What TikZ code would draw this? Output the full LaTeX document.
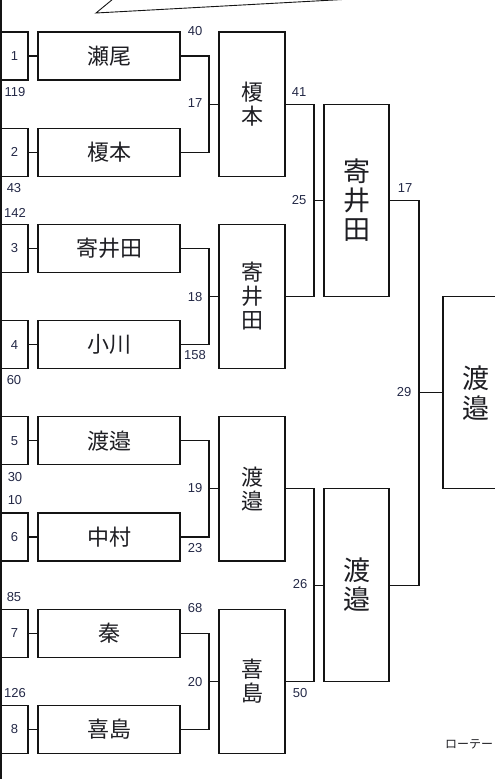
\documentclass[tikz,border=0pt]{standalone}
\usepackage{fontspec}
\setmainfont{Liberation Sans}
\newfontfamily\cjk{Noto Sans CJK JP}
\usetikzlibrary{positioning}
\definecolor{lineblack}{RGB}{20, 20, 20}
\definecolor{namegray}{RGB}{30, 30, 35}
\definecolor{scorenavy}{RGB}{35, 40, 70}
\tikzset{
  bline/.style={line width=1.1pt, lineblack},
  seedbox/.style={draw=lineblack, line width=1.1pt, minimum width=27pt, minimum height=48pt, inner sep=0pt, outer sep=0pt, text=scorenavy, font=\fontsize{13}{13}\selectfont},
  namebox/.style={draw=lineblack, line width=1.1pt, minimum width=142pt, minimum height=48pt, inner sep=0pt, outer sep=0pt, text=namegray, font=\cjk\fontsize{22}{22}\selectfont},
  rtwobox/.style={draw=lineblack, line width=1.1pt, minimum width=66pt, minimum height=144.2pt, inner sep=0pt, outer sep=0pt, align=center, text=namegray, font=\cjk\fontsize{22}{24}\selectfont},
  rthreebox/.style={draw=lineblack, line width=1.1pt, minimum width=65pt, minimum height=192.4pt, inner sep=0pt, outer sep=0pt, align=center, text=namegray, font=\cjk\fontsize{27}{29}\selectfont},
  score/.style={inner sep=0pt, text=scorenavy, font=\fontsize{13}{13}\selectfont}
}
\begin{document}
\begin{tikzpicture}[x=1pt, y=-1pt]
    \useasboundingbox (0,0) rectangle (495,779);
    \clip (0,0) rectangle (495,779);
    % Đường viền trái và chú thích phía trên
    \draw[bline] (1,0) -- (1,779);
    \draw[line width=0.9pt, lineblack] (113,-1) -- (96,13) -- (352,-1);
    % Hạt giống
    \node (s1) [seedbox] at (14.5,56) {1};
    \node (s2) [seedbox] at (14.5,152.2) {2};
    \node (s3) [seedbox] at (14.5,248.4) {3};
    \node (s4) [seedbox] at (14.5,344.6) {4};
    \node (s5) [seedbox] at (14.5,440.8) {5};
    \node (s6) [seedbox] at (14.5,537) {6};
    \node (s7) [seedbox] at (14.5,633.2) {7};
    \node (s8) [seedbox] at (14.5,729.4) {8};
    % Tên vòng 1
    \node (n1) [namebox, right=10pt of s1] {瀬尾};
    \node (n2) [namebox, right=10pt of s2] {榎本};
    \node (n3) [namebox, right=10pt of s3] {寄井田};
    \node (n4) [namebox, right=10pt of s4] {小川};
    \node (n5) [namebox, right=10pt of s5] {渡邉};
    \node (n6) [namebox, right=10pt of s6] {中村};
    \node (n7) [namebox, right=10pt of s7] {秦};
    \node (n8) [namebox, right=10pt of s8] {喜島};
    \draw[bline] (s1) -- (n1);
    \draw[bline] (s2) -- (n2);
    \draw[bline] (s3) -- (n3);
    \draw[bline] (s4) -- (n4);
    \draw[bline] (s5) -- (n5);
    \draw[bline] (s6) -- (n6);
    \draw[bline] (s7) -- (n7);
    \draw[bline] (s8) -- (n8);
    % Điểm nối vòng 1
    \coordinate (j1) at (209,104.1);
    \coordinate (j2) at (209,296.5);
    \coordinate (j3) at (209,488.9);
    \coordinate (j4) at (209,681.3);
    % Vòng 2
    \node (q1) [rtwobox, right=10pt of j1] {榎\\本};
    \node (q2) [rtwobox, right=10pt of j2] {寄\\井\\田};
    \node (q3) [rtwobox, right=10pt of j3] {渡\\邉};
    \node (q4) [rtwobox, right=10pt of j4] {喜\\島};
    \draw[bline] (n1.east) -| (j1) |- (n2.east);
    \draw[bline] (n3.east) -| (j2) |- (n4.east);
    \draw[bline] (n5.east) -| (j3) |- (n6.east);
    \draw[bline] (n7.east) -| (j4) |- (n8.east);
    \draw[bline] (j1) -- (q1.west);
    \draw[bline] (j2) -- (q2.west);
    \draw[bline] (j3) -- (q3.west);
    \draw[bline] (j4) -- (q4.west);
    % Vòng 3
    \coordinate (k1) at (314,200.3);
    \coordinate (k2) at (314,585.1);
    \node (t1) [rthreebox, right=10pt of k1] {寄\\井\\田};
    \node (t2) [rthreebox, right=10pt of k2] {渡\\邉};
    \draw[bline] (q1.east) -| (k1) |- (q2.east);
    \draw[bline] (q3.east) -| (k2) |- (q4.east);
    \draw[bline] (k1) -- (t1.west);
    \draw[bline] (k2) -- (t2.west);
    % Chung kết
    \coordinate (f1) at (419,392.7);
    \node (w) [rthreebox, right=24pt of f1, font=\cjk\fontsize{27}{30}\selectfont] {渡\\邉};
    \draw[bline] (t1.east) -| (f1) |- (t2.east);
    \draw[bline] (f1) -- (w.west);
    % Điểm số
    \node[score] at (15,92) {119};
    \node[score] at (14,188) {43};
    \node[score] at (15,213) {142};
    \node[score] at (14,380) {60};
    \node[score] at (15,477) {30};
    \node[score] at (15,500) {10};
    \node[score] at (14,597) {85};
    \node[score] at (15,693) {126};
    \node[score] at (195,31) {40};
    \node[score] at (195,103) {17};
    \node[score] at (195,297) {18};
    \node[score] at (195,355) {158};
    \node[score] at (195,488) {19};
    \node[score] at (195,548) {23};
    \node[score] at (195,608) {68};
    \node[score] at (195,682) {20};
    \node[score] at (299,92) {41};
    \node[score] at (299,200) {25};
    \node[score] at (300,584) {26};
    \node[score] at (300,693) {50};
    \node[score] at (405,188) {17};
    \node[score] at (404,392) {29};
    % Ghi chú góc dưới
    \node (rot) [anchor=west, inner sep=0pt, text=namegray, font=\cjk\fontsize{12}{12}\selectfont] at (445,744) {ローテー};
\end{tikzpicture}
\end{document}
